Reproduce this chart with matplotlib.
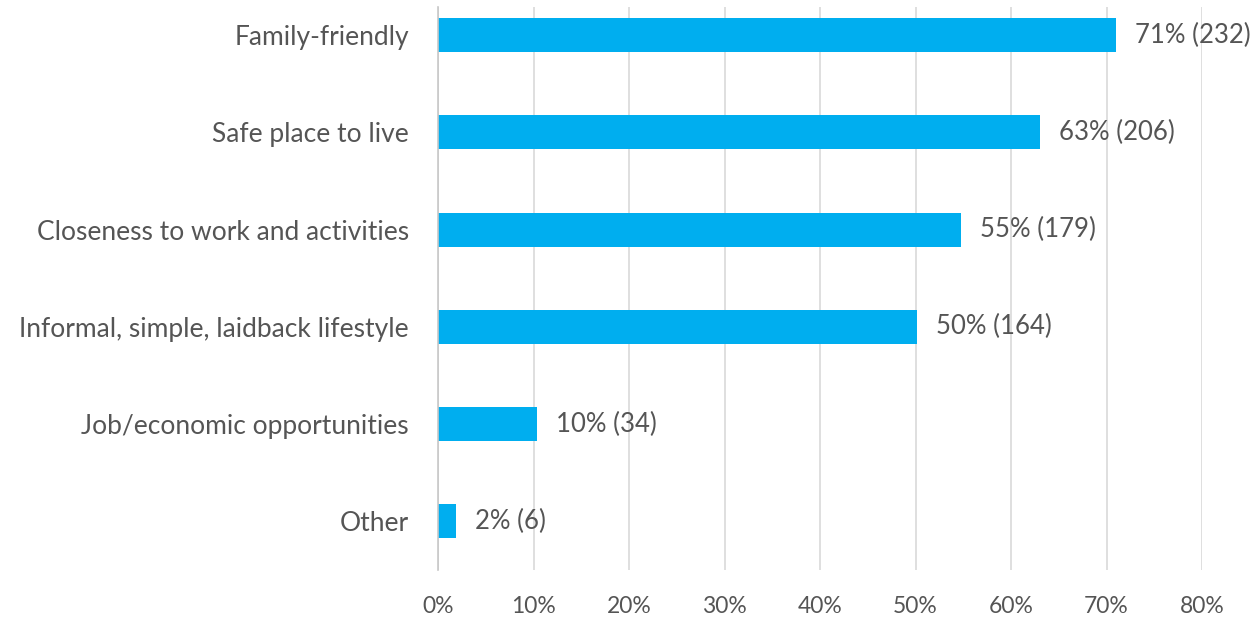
import matplotlib
matplotlib.use("Agg")
import matplotlib.pyplot as plt
from matplotlib.ticker import FuncFormatter

# Reasons respondents gave for choosing where they live
categories = [
    "Family-friendly",
    "Safe place to live",
    "Closeness to work and activities",
    "Informal, simple, laidback lifestyle",
    "Job/economic opportunities",
    "Other",
]
counts = [232, 206, 179, 164, 34, 6]
respondents = 327
percent_labels = ["71%", "63%", "55%", "50%", "10%", "2%"]
x_ticks = [0, 10, 20, 30, 40, 50, 60, 70, 80]

shares = [c / respondents * 100 for c in counts]

plt.rcParams["font.family"] = ["Lato", "DejaVu Sans"]
text_color = "#555555"
bar_color = "#00AEEF"
grid_color = "#d9d9d9"

fig = plt.figure(figsize=(12.59, 6.21), dpi=100)
ax = fig.add_axes([438 / 1259, 1 - 570 / 621, (1202 - 438) / 1259, (570 - 7) / 621])

ypos = list(range(len(categories)))
ax.barh(ypos, shares, height=0.35, color=bar_color, zorder=3)

for y, s, p, c in zip(ypos, shares, percent_labels, counts):
    ax.text(s + 2.0, y, f"{p} ({c})", va="center", ha="left",
            fontsize=18.5, color=text_color)

ax.set_xlim(0, 80)
ax.set_ylim(5.5, -0.29)
ax.set_xticks(x_ticks)
ax.xaxis.set_major_formatter(FuncFormatter(lambda v, _: f"{v:.0f}%"))
ax.set_yticks(ypos)
ax.set_yticklabels(categories)

ax.tick_params(axis="both", length=0, labelcolor=text_color)
ax.tick_params(axis="x", pad=19, labelsize=16.5)
ax.tick_params(axis="y", pad=21, labelsize=19)

ax.grid(axis="x", color=grid_color, linewidth=1.2, zorder=0)
for side in ("top", "right", "bottom"):
    ax.spines[side].set_visible(False)
ax.spines["left"].set_color("#c8c8c8")
ax.spines["left"].set_linewidth(1.2)
ax.spines["left"].set_zorder(4)

fig.savefig("out.png", dpi=100)
